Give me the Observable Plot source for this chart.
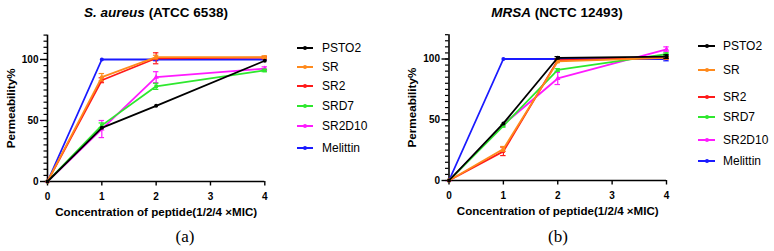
<!DOCTYPE html>
<html><head><meta charset="utf-8">
<script src="https://cdn.jsdelivr.net/npm/d3@7"></script>
<script src="https://cdn.jsdelivr.net/npm/@observablehq/plot@0.6"></script>
<style>
body{margin:0;background:#fff;}
#wrap{position:relative;width:774px;height:251px;font-family:"Liberation Sans",Arial,sans-serif;overflow:hidden;background:#fff}
.abs{position:absolute;white-space:nowrap;line-height:1}
.title{font-weight:bold;font-size:13.5px;transform:translate(-50%,-50%)}
.cap{font-family:"Liberation Serif",serif;font-size:17px;transform:translate(-50%,-50%)}
.legtxt{font-size:12px;transform:translateY(-50%)}
.legline{height:2px;transform:translateY(-50%)}
.legdot{width:4px;height:4px;border-radius:2px;transform:translate(-50%,-50%)}
svg{position:absolute;top:0}
</style></head><body><div id="wrap"></div>
<script>
// ---- data ----
const concentrations = [0, 1, 2, 4];
const xTicks = [0, 1, 2, 3, 4];
const yTicks = [0, 50, 100];
const seriesNames = ["PSTO2", "SR", "SR2", "SRD7", "SR2D10", "Melittin"];
const seriesColors = ["#000000", "#ff8a1c", "#ff1a1a", "#2ee82e", "#ff1aff", "#1a1aff"];

// S. aureus (ATCC 6538) means
const saPSTO2 = [0, 44, 62, 99];
const saSR = [0, 85.5, 102, 102];
const saSR2 = [0, 83, 101, 101.5];
const saSRD7 = [0, 46, 78, 91];
const saSR2D10 = [0, 43, 85.5, 92.5];
const saMelittin = [0, 100, 100, 100];
// S. aureus error (SD)
const saPSTO2err = [0, 0, 0, 0];
const saSRerr = [0, 3, 1.5, 1];
const saSR2err = [0, 2, 4.5, 1];
const saSRD7err = [0, 2, 2.5, 1];
const saSR2D10err = [0, 7, 4.5, 1.5];
const saMelittinerr = [0, 0, 1, 0];

// MRSA (NCTC 12493) means
const mrPSTO2 = [0, 47, 101, 102];
const mrSR = [0, 26, 98, 101];
const mrSR2 = [0, 24, 99, 101];
const mrSRD7 = [0, 45, 91, 104];
const mrSR2D10 = [0, 46, 84, 108];
const mrMelittin = [0, 100, 100, 100];
// MRSA error (SD)
const mrPSTO2err = [0, 0, 1, 1.5];
const mrSRerr = [0, 2, 1, 1];
const mrSR2err = [0, 3.5, 1, 1];
const mrSRD7err = [0, 1, 1, 1];
const mrSR2D10err = [0, 0, 5, 2];
const mrMelittinerr = [0, 0, 0, 1.5];

const saMeans = [saPSTO2, saSR, saSR2, saSRD7, saSR2D10, saMelittin];
const saErrs = [saPSTO2err, saSRerr, saSR2err, saSRD7err, saSR2D10err, saMelittinerr];
const mrMeans = [mrPSTO2, mrSR, mrSR2, mrSRD7, mrSR2D10, mrMelittin];
const mrErrs = [mrPSTO2err, mrSRerr, mrSR2err, mrSRD7err, mrSR2D10err, mrMelittinerr];

const minorTicks = d3.range(0, 121, 5);
const symbols = ["circle", "circle", "circle", "square", "triangle", "circle"];

function rows(means, errs) {
  const out = [];
  seriesNames.forEach((s, i) => concentrations.forEach((c, j) =>
    out.push({s, c, v: means[i][j], e: errs[i][j]})));
  return out;
}

function panel(means, errs, cfg) {
  const data = rows(means, errs);
  const drawOrder = [...seriesNames].reverse();
  const marks = [
    Plot.axisY({ticks: minorTicks, tickSize: 3.5, tickFormat: () => "", label: null, strokeWidth: 1.2}),
    Plot.axisY({ticks: yTicks, tickSize: 7, tickPadding: 2, label: null, strokeWidth: 1.4}),
    Plot.axisY({ticks: [], label: "Permeability%", labelAnchor: "center", labelArrow: "none",
      labelOffset: 41, fontSize: 11.7}),
    Plot.axisX({ticks: xTicks, tickSize: 4.5, tickPadding: 6.5, strokeWidth: 1.4, tickFormat: d => d, label: null}),
    Plot.axisX({ticks: [], label: "Concentration of peptide(1/2/4 ×MIC)", labelAnchor: "center",
      labelArrow: "none", labelOffset: 34, fontSize: 11.6}),
    Plot.ruleX([0], {y1: 0, y2: 120, strokeWidth: 1.6}),
    Plot.ruleY([0], {x1: 0, x2: 4, strokeWidth: 1.6})
  ];
  for (const s of drawOrder) {
    const d = data.filter(r => r.s === s);
    const eb = d.filter(r => r.e > 0);
    marks.push(
      Plot.ruleX(eb, {x: "c", y1: r => r.v - r.e, y2: r => r.v + r.e, stroke: "s", strokeWidth: 1.2}),
      Plot.ruleY(eb, {y: r => r.v + r.e, x1: r => r.c - 0.05, x2: r => r.c + 0.05, stroke: "s", strokeWidth: 1.2}),
      Plot.ruleY(eb, {y: r => r.v - r.e, x1: r => r.c - 0.05, x2: r => r.c + 0.05, stroke: "s", strokeWidth: 1.2}),
      Plot.line(d, {x: "c", y: "v", stroke: "s", strokeWidth: 1.8}),
      Plot.dot(d, {x: "c", y: "v", fill: "s", symbol: "s", r: 2})
    );
  }
  const svg = Plot.plot({
    width: cfg.width, height: 225,
    marginLeft: cfg.ml, marginRight: cfg.width - cfg.xEnd, marginTop: cfg.mt, marginBottom: 225 - cfg.y0,
    x: {domain: [0, 4]},
    y: {domain: [0, 120]},
    color: {domain: seriesNames, range: seriesColors},
    symbol: {domain: seriesNames, range: symbols},
    style: {fontFamily: "Liberation Sans, Arial, sans-serif", fontSize: "10px", fontWeight: "bold",
      color: "#000", background: "transparent", overflow: "visible"},
    marks
  });
  svg.style.left = cfg.left + "px";
  return svg;
}

const wrap = document.getElementById("wrap");
wrap.appendChild(panel(saMeans, saErrs, {left: 0, width: 290, ml: 47, xEnd: 264.3, mt: 34.6, y0: 181}));
wrap.appendChild(panel(mrMeans, mrErrs, {left: 387, width: 300, ml: 61.5, xEnd: 279, mt: 34.2, y0: 180}));

function addText(cls, html, x, y) {
  const el = document.createElement("div");
  el.className = "abs " + cls;
  el.innerHTML = html;
  el.style.left = x + "px";
  el.style.top = y + "px";
  wrap.appendChild(el);
  return el;
}
addText("title", "<i>S. aureus</i> (ATCC 6538)", 156, 13);
addText("title", "<i>MRSA</i> (NCTC 12493)", 557, 13);
addText("cap", "(a)", 185, 236);
addText("cap", "(b)", 558, 236);

// legends (HTML, beside each plot)
const legendLeft = {lineX: 297, lineW: 16, textX: 322, rowsY: [47.5, 66.5, 86, 105.5, 125.5, 148]};
const legendRight = {lineX: 698, lineW: 17, textX: 723, rowsY: [46, 69.5, 97, 116.5, 139.5, 161]};
for (const L of [legendLeft, legendRight]) {
  seriesNames.forEach((s, i) => {
    const y = L.rowsY[i];
    const ln = addText("legline", "", L.lineX, y);
    ln.style.width = L.lineW + "px";
    ln.style.background = seriesColors[i];
    const dt = addText("legdot", "", L.lineX + L.lineW / 2, y);
    dt.style.background = seriesColors[i];
    addText("legtxt", s, L.textX, y);
  });
}
</script></body></html>
